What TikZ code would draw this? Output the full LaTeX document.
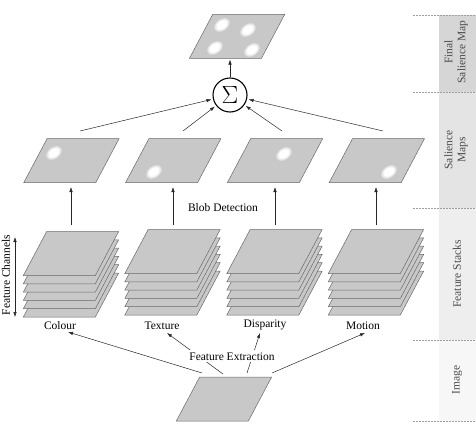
\documentclass[tikz,border=0pt]{standalone}
\usepackage{fontspec}
\setmainfont{Liberation Serif}
\usetikzlibrary{arrows.meta,calc}
\definecolor{mapgray}{RGB}{200,200,200}
\definecolor{edgegray}{RGB}{105,105,105}
\definecolor{bandA}{RGB}{214,214,214}
\definecolor{bandB}{RGB}{228,228,228}
\definecolor{bandC}{RGB}{238,238,238}
\definecolor{bandD}{RGB}{247,247,247}
\definecolor{sidetext}{RGB}{75,75,75}
\newcommand\myblob[2]{%
  \begin{scope}[rotate around={35:(#1,#2)}]
    \fill[white!40!mapgray] (#1,#2) ellipse [x radius=8.6, y radius=5.8];
    \fill[white!72!mapgray] (#1,#2) ellipse [x radius=7.4, y radius=4.9];
    \fill[white] (#1,#2) ellipse [x radius=6, y radius=3.8];
  \end{scope}}
\begin{document}
\begin{tikzpicture}[x=1pt,y=-1pt,
  plane/.style={draw=edgegray, fill=mapgray, line width=0.5pt, xslant=0.53, transform shape,
    minimum width=72pt, minimum height=44pt, inner sep=0pt, outer sep=0pt},
  arr/.style={draw=black!85, line width=0.5pt, -{Latex[length=5pt,width=3.4pt]}},
  dblarr/.style={draw=black!85, line width=0.5pt, {Latex[length=5pt,width=3.4pt]}-{Latex[length=5pt,width=3.4pt]}},
  lab/.style={font=\fontsize{11.5}{13}\selectfont, inner sep=1pt},
  side/.style={font=\fontsize{11.5}{13}\selectfont, text=sidetext, rotate=90, align=center},
  bandline/.style={draw=gray!75, dash pattern=on 1.5pt off 1.5pt, line width=0.4pt},
]
\useasboundingbox (0,0) rectangle (476,428);

% side bands
\fill[bandA] (439,15) rectangle (476,92);
\fill[bandB] (439,92) rectangle (476,208);
\fill[bandC] (439,208) rectangle (476,340);
\fill[bandD] (439,340) rectangle (476,421);
\foreach \yy in {15,92,208,340,421} \draw[bandline] (413,\yy) -- (476,\yy);
\node[side] (sfinal) at (456,52) {Final\\Salience Map};
\node[side] (ssal) at (456,150) {Salience\\Maps};
\node[side] (sstack) at (457,274) {Feature Stacks};
\node[side] (simg) at (457,380) {Image};

% final map
\node[plane] (fin) at (237,36.5) {};
\myblob{222}{25}\myblob{248}{30}\myblob{215}{48}\myblob{252}{50}

% sigma
\node[circle, draw=black, line width=1.1pt, minimum size=34pt, inner sep=0pt, fill=white] (sig) at (230,95)
  {\fontsize{24}{24}\selectfont$\Sigma$};
\draw[arr, shorten >=1pt] (sig) -- (sig.north |- fin.south);

% salience maps
\node[plane] (m1) at (71.5,160.5) {};
\node[plane] (m2) at (173.3,160.5) {};
\node[plane] (m3) at (275.1,160.5) {};
\node[plane] (m4) at (376.9,160.5) {};
\myblob{54}{153}\myblob{154}{172}\myblob{284}{154}\myblob{389}{172}

\coordinate (a1) at (80,131);
\coordinate (a2) at (183,131);
\coordinate (a3) at (282,131);
\coordinate (a4) at (383,131);
\foreach \i in {1,2,3,4} \draw[arr, shorten >=1.5pt] (a\i) -- (sig);

% feature stacks
\foreach \i/\x/\y in {1/71/253.5, 2/172.5/251.5, 3/274.5/251.5, 4/376/251.5} {
  \foreach \k in {5,4,3,2,1} \node[plane] (st\i-\k) at (\x,{\y+8.3*\k}) {};
  \node[plane] (st\i) at (\x,\y) {};
}

% blob detection arrows
\foreach \i/\x in {1/71,2/173,3/275,4/376} {
  \coordinate (u\i) at (\x,225);
  \coordinate (v\i) at (\x,187);
  \draw[arr] (u\i) -- (v\i);
}
\node[lab, anchor=base] (blob) at (223,211) {Blob Detection};

% feature channels
\coordinate (fc1) at (15,237);
\coordinate (fc2) at (15,317);
\draw[dblarr] (fc1) -- (fc2);
\node[lab, rotate=90] (fch) at (6,275) {Feature Channels};

% labels
\node[lab, anchor=base] (lc) at (60,329) {Colour};
\node[lab, anchor=base] (lt) at (162,329) {Texture};
\node[lab, anchor=base] (ld) at (265,327) {Disparity};
\node[lab, anchor=base] (lm) at (363,329) {Motion};

% image
\node[plane] (img) at (224,399) {};
\coordinate (e1) at (202,373); \coordinate (t1) at (68,332);
\coordinate (e2) at (223,374); \coordinate (t2) at (167,333);
\coordinate (e3) at (247,373); \coordinate (t3) at (260,333);
\coordinate (e4) at (272,373); \coordinate (t4) at (365,333);
\foreach \i in {1,2,3,4} \draw[arr] (e\i) -- (t\i);
\node[lab, anchor=base, fill=white, inner sep=2pt] (fe) at (232,360) {Feature Extraction};
\end{tikzpicture}
\end{document}
